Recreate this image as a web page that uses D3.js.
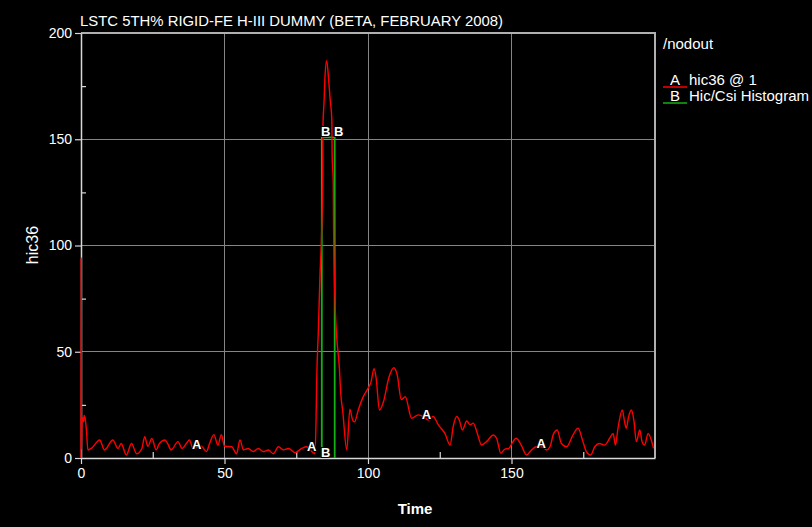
<!DOCTYPE html>
<html>
<head>
<meta charset="utf-8">
<script src="https://cdn.jsdelivr.net/npm/d3@7"></script>
<style>
  html, body { margin: 0; padding: 0; background: #000; }
  svg { display: block; }
  text { font-family: "Liberation Sans", Arial, sans-serif; fill: #fff; }
</style>
</head>
<body>
<script>
// ---- data ----
const title = "LSTC 5TH% RIGID-FE H-III DUMMY (BETA, FEBRUARY 2008)";
const xLabel = "Time";
const yLabel = "hic36";
const legendTitle = "/nodout";
const seriesNames = ["hic36 @ 1", "Hic/Csi Histogram"];
const seriesSymbols = ["A", "B"];

const time = [0, 0.05, 0.1, 0.15, 0.3, 0.6, 0.9, 1.1, 1.4, 1.9, 2.4, 3.6, 6.5, 8.2, 11.1, 12.9, 14, 15.8, 17.6, 19.4,
  21.2, 22.2, 23.3, 24.7, 26.2, 27.3, 29.3, 30.2, 31.4, 33.8, 35.2, 36.7, 37.8, 39, 41.9, 43.7, 44.8, 46.3, 47.7, 48.9,
  50, 52.5, 54.2, 55.4, 56.6, 58.3, 60, 61.8, 63.5, 65.3, 67, 68.8, 70.5, 72.3, 74.6, 76.9, 78.6, 79.8, 81.5,
  81.9, 82.1, 82.7, 83.3, 83.8, 84.2, 84.3, 84.7, 85, 85.6, 86.2, 86.8, 87.4, 87.5, 87.9, 88.0, 88.5, 89.1, 90, 90.5,
  91.2, 92.6, 93.7, 94.6, 95.3, 96.6, 98.4, 100.1, 101, 102.1, 102.8, 104, 105.4, 107.3, 109, 110.2, 111.6, 113,
  115.2, 117.5, 119.3, 121, 122.7, 124.5, 126.8, 128.6, 129.7, 130.9, 131.8, 132.9, 134.4, 135.6, 136.7, 137.9,
  139.6, 141.3, 143.7, 144.8, 146.3, 147.7, 149.1, 150.2, 151.6, 153.4, 155.2, 157, 158.7, 160.5, 162.2, 163.4,
  164.7, 165.9, 167.4, 169.2, 171.4, 173.2, 174.9, 176.1, 177.6, 179, 180.7, 182.5, 184.2, 185.4, 186.2, 187.1,
  188.6, 189.4, 190, 190.8, 191.8, 192.7, 193.5, 194.7, 195.5, 196.4, 197.6, 198.7, 199.5];
const hic36 = [0, 94, 68, 4, 15, 19, 17, 20, 19, 13, 3.8, 4.5, 8.5, 3.8, 8.5, 4.5, 6.8, 1.4, 6.8, 2,
  4.5, 10, 5.5, 9.2, 3.8, 6.8, 8.5, 6.8, 3.8, 7.7, 4.5, 6.8, 8.5, 4.5, 5.5, 3, 6.8, 11, 6, 11,
  5.5, 5.3, 2, 8.5, 3.8, 4.5, 3, 4.5, 3, 3.8, 2, 5.3, 3.8, 4.5, 2.5, 4.5, 5.3, 3.8, 2,
  18, 35, 60, 87, 104, 131, 156, 168, 179, 187, 179.5, 169, 159, 143, 129, 110, 74, 57, 43, 30.5,
  22, 3.8, 23, 18, 17, 22.6, 29, 33, 35.5, 42, 38, 22.6, 26.5, 38, 42.5, 39, 27.5, 28.8,
  18.7, 20.3, 19.5, 17.9, 19.5, 15.6, 11.6, 6.1, 14.9, 19.5, 17.9, 13.2, 17.4, 15.6, 16.4, 12.4,
  6.1, 7.7, 10.8, 9.3, 2.2, 4.2, 4.5, 7, 9.3, 6.1, 1.4, 3.8, 5.3, 5.3, 3.8, 5.3,
  11.6, 13.2, 6.8, 5.3, 10.8, 14, 7.7, 3, 1.4, 5.3, 6.8, 6.1, 9.3, 11.6, 6.1, 14,
  22.6, 17.1, 14, 19.5, 22.6, 17.1, 7.7, 13.2, 7.7, 6.1, 11.6, 8.5, 4.5];

// HIC window histogram (series B)
const histTime = [83.9, 83.9, 88.4, 88.4];
const histValue = [0, 150.9, 150.9, 0];
const histLabelIdx = [0, 1, 2];

// symbol positions on series A
const aMarkTimes = [40, 80, 120, 160];

const xTicks = [0, 50, 100, 150];
const xMinor = [25, 75, 125, 175];
const yTicks = [0, 50, 100, 150, 200];
const yMinor = [25, 75, 125, 175];
const xDomain = [0, 200];
const yDomain = [0, 200];

// ---- drawing ----
const W = 812, H = 527;
const L = 81, R = 655, T = 33, B = 458;
const svg = d3.select("body").append("svg").attr("width", W).attr("height", H)
  .style("background", "#000");

const x = d3.scaleLinear().domain(xDomain).range([L, R]);
const y = d3.scaleLinear().domain(yDomain).range([B, T]);

// grid
const grid = svg.append("g").attr("stroke", "#858585").attr("stroke-width", 1).attr("shape-rendering", "crispEdges");
grid.selectAll(".gx").data(xTicks.filter(d => d > 0)).join("line")
  .attr("x1", d => x(d)).attr("x2", d => x(d)).attr("y1", T).attr("y2", B);
grid.selectAll(".gy").data(yTicks.filter(d => d > 0 && d < 200)).join("line")
  .attr("x1", L).attr("x2", R).attr("y1", d => y(d)).attr("y2", d => y(d));
// border top & right
svg.append("path").attr("d", `M${L},${T}H${R}V${B}`).attr("fill", "none")
  .attr("stroke", "#b0b0b0").attr("stroke-width", 1.2).attr("shape-rendering", "crispEdges");

// axes
function styleAxis(g) {
  g.selectAll("path.domain").attr("stroke", "#d8d8d8").attr("stroke-width", 1.5);
  g.selectAll(".tick line").attr("stroke", "#d8d8d8").attr("stroke-width", 1.2);
  g.selectAll(".tick text").attr("fill", "#fff").style("font-size", "14px")
    .style("font-family", '"Liberation Sans", Arial, sans-serif');
}
svg.append("g").attr("transform", `translate(${L},0)`)
  .call(d3.axisLeft(y).tickValues(yTicks).tickSize(6).tickPadding(3).tickSizeOuter(0)).call(styleAxis);
svg.append("g").attr("transform", `translate(${L},0)`)
  .call(d3.axisRight(y).tickValues(yMinor).tickSize(5).tickFormat("")).call(styleAxis)
  .select("path.domain").remove();
svg.append("g").attr("transform", `translate(0,${B})`)
  .call(d3.axisBottom(x).tickValues(xTicks).tickSize(6).tickPadding(4).tickSizeOuter(0)).call(styleAxis);
svg.append("g").attr("transform", `translate(0,${B})`)
  .call(d3.axisTop(x).tickValues(xMinor).tickSize(6).tickFormat("")).call(styleAxis)
  .select("path.domain").remove();

// clip
svg.append("clipPath").attr("id", "clip").append("rect").attr("x", L - 2).attr("y", T - 2).attr("width", R - L + 2).attr("height", B - T + 2);

const data = time.map((t, i) => [t, hic36[i]]);
const line = d3.line().x(d => x(d[0])).y(d => y(d[1])).curve(d3.curveMonotoneX);
const plot = svg.append("g").attr("clip-path", "url(#clip)");

// histogram series B
const hist = histTime.map((t, i) => [t, histValue[i]]);
plot.append("path").datum(hist)
  .attr("d", d3.line().x(d => x(d[0])).y(d => y(d[1])))
  .attr("fill", "none").attr("stroke", "#13b013").attr("stroke-width", 1.8);

plot.append("path").datum(data).attr("d", line)
  .attr("fill", "none").attr("stroke", "#ff0000").attr("stroke-width", 1.4);

// symbol labels
function interp(t) {
  const i = d3.bisectRight(time, t);
  const t0 = time[i - 1], t1 = time[i];
  const v0 = hic36[i - 1], v1 = hic36[i];
  return v0 + (v1 - v0) * (t - t0) / (t1 - t0);
}
const lab = svg.append("g").style("font-size", "13px").style("font-weight", "bold")
  .attr("text-anchor", "middle");
lab.selectAll(".a").data(aMarkTimes).join("text")
  .attr("x", d => x(d) + 1).attr("y", d => y(interp(d)) + 1)
  .attr("stroke", "#000").attr("stroke-width", 2).attr("paint-order", "stroke")
  .text(seriesSymbols[0]);
lab.selectAll(".b").data(histLabelIdx).join("text")
  .attr("x", i => x(histTime[i]) + 4).attr("y", i => y(histValue[i]) - 1)
  .attr("stroke", "#000").attr("stroke-width", 2).attr("paint-order", "stroke")
  .text(seriesSymbols[1]);

// title and labels
svg.append("text").attr("x", 80).attr("y", 26).style("font-size", "15px")
  .attr("textLength", 423).attr("lengthAdjust", "spacingAndGlyphs").text(title);
svg.append("text").attr("transform", `translate(38,245) rotate(-90)`).attr("text-anchor", "middle")
  .style("font-size", "16px").text(yLabel);
svg.append("text").attr("x", 415).attr("y", 514).attr("text-anchor", "middle")
  .style("font-size", "15px").style("font-weight", "bold").text(xLabel);

// legend
const lg = svg.append("g");
lg.append("text").attr("x", 663).attr("y", 49).style("font-size", "15px").text(legendTitle);
const legColors = ["#ff0000", "#13b013"];
seriesNames.forEach((n, i) => {
  const yy = 85 + i * 16;
  lg.append("line").attr("x1", 663).attr("x2", 687).attr("y1", yy + 2).attr("y2", yy + 2)
    .attr("stroke", legColors[i]).attr("stroke-width", 1.5);
  lg.append("text").attr("x", 675).attr("y", yy).attr("text-anchor", "middle").style("font-size", "15px").text(seriesSymbols[i]);
  lg.append("text").attr("x", 689).attr("y", yy).style("font-size", "15px").text(n);
});
</script>
</body>
</html>
